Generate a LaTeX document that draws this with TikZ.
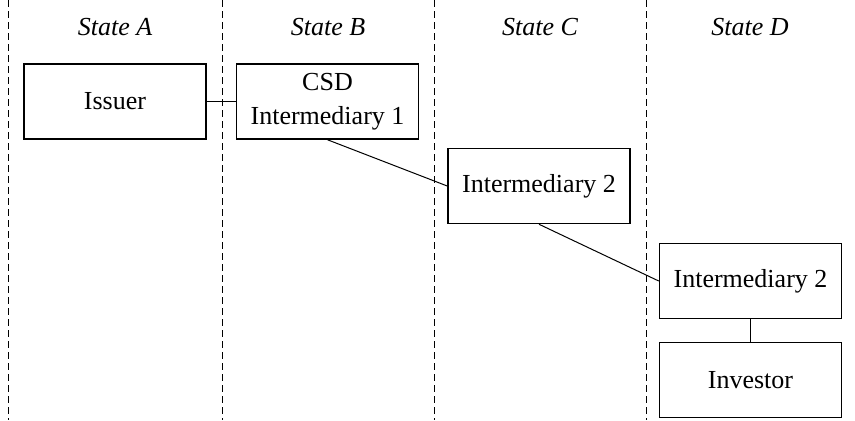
\documentclass[tikz,border=0pt]{standalone}
\usepackage{fontspec}
\setmainfont{Liberation Serif}
\usetikzlibrary{positioning}

\begin{document}
\begin{tikzpicture}[x=0.5pt, y=-0.5pt, node distance=49.5pt,
    every node/.style={font=\fontsize{13}{17}\selectfont},
    box/.style={draw, rectangle, line width=0.75pt, align=center, minimum width=91pt, minimum height=37.5pt, inner sep=0pt},
    statelabel/.style={font=\fontsize{13}{17}\selectfont\itshape},
    border/.style={dash pattern=on 3.5pt off 2pt, line width=0.5pt}]
        \useasboundingbox (0,0) rectangle (855,420);

        % state borders
        \draw[border] (8,0) -- (8,420);
        \draw[border] (222,0) -- (222,420);
        \draw[border] (434,0) -- (434,420);
        \draw[border] (646,0) -- (646,420);

        \node[statelabel] (stateA) at (115,27) {State A};
        \node[statelabel] (stateB) at (328,27) {State B};
        \node[statelabel] (stateC) at (540,27) {State C};
        \node[statelabel] (stateD) at (750,27) {State D};

        \node[box] (issuer) at (115,101.5) {Issuer};
        \node[box] (csd) at (327.5,101.5) {CSD\\Intermediary 1};
        \node[box] (interC) at (539,186) {Intermediary 2};
        \node[box] (interD) at (750.5,281) {Intermediary 2};
        \node[box] (investor) [below of=interD] {Investor};

        \draw[line width=0.5pt] (issuer) -- (csd);
        \draw[line width=0.5pt] (csd.south) -- (interC.west);
        \draw[line width=0.5pt] (interC.south) -- (interD.west);
        \draw[line width=0.5pt] (interD) -- (investor);
    \end{tikzpicture}
\end{document}
